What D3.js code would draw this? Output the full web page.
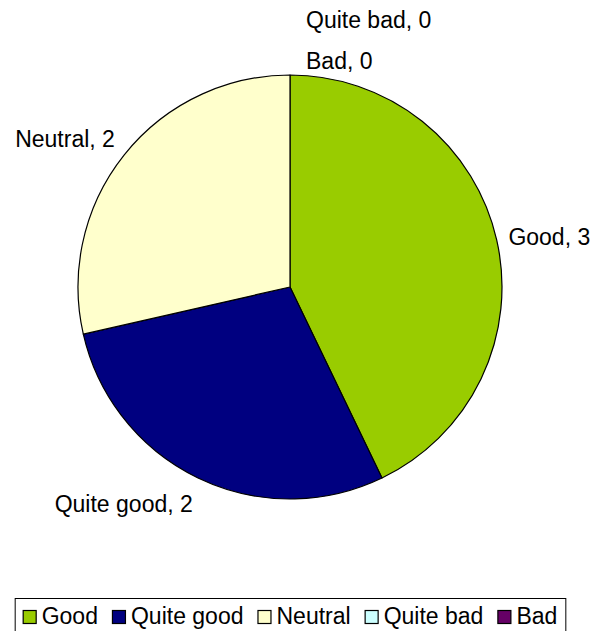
<!DOCTYPE html>
<html>
<head>
<meta charset="utf-8">
<script src="https://cdn.jsdelivr.net/npm/d3@7"></script>
<style>
  html, body { margin: 0; padding: 0; background: #fff; }
  svg { display: block; }
  text { font-family: "Liberation Sans", Arial, sans-serif; fill: #000; }
</style>
</head>
<body>
<svg id="chart" width="593" height="631"></svg>
<script>
// Survey answers and their counts
const categories = ["Good", "Quite good", "Neutral", "Quite bad", "Bad"];
const counts = [3, 2, 2, 0, 0];
const colors = ["#99cc00", "#000080", "#ffffcc", "#ccffff", "#660066"];

const width = 593, height = 631;
const cx = 290, cy = 287, radius = 212;
const fontSize = 23;

const svg = d3.select("#chart");
const data = categories.map((c, i) => ({ name: c, value: counts[i], color: colors[i] }));

const pie = d3.pie().value(d => d.value).sort(null);
const arcs = pie(data);
const arc = d3.arc().innerRadius(0).outerRadius(radius);

const g = svg.append("g").attr("transform", `translate(${cx},${cy})`);

g.selectAll("path.slice")
  .data(arcs.filter(a => a.data.value > 0))
  .join("path")
  .attr("class", "slice")
  .attr("d", arc)
  .attr("fill", d => d.data.color)
  .attr("stroke", "#000")
  .attr("stroke-width", 1.2)
  .attr("stroke-linejoin", "round");

// Data labels: placed just outside the rim, aligned by the direction of the slice
const labelGap = 12;
const placed = [];
const labelsG = svg.append("g");
// draw in reverse so later (zero-size) slices stack above earlier ones
arcs.slice().reverse().forEach(a => {
  const mid = (a.startAngle + a.endAngle) / 2;
  const dx = Math.sin(mid), dy = -Math.cos(mid);
  const px = cx + (radius + labelGap) * dx;
  const py = cy + (radius + labelGap) * dy;
  const t = labelsG.append("text")
    .attr("font-size", fontSize)
    .text(`${a.data.name}, ${a.data.value}`);
  const w = t.node().getComputedTextLength();
  let x, yMid;
  if (Math.abs(dx) < 0.1) {
    x = px + 16; yMid = py - 2;
  } else {
    x = dx > 0 ? px : px - w;
    if (Math.abs(dy) < 0.4) yMid = py;
    else if (dy < 0) yMid = py - fontSize * 0.35;
    else yMid = py + fontSize * 0.65;
  }
  // push overlapping labels upward
  let box = { x0: x, x1: x + w, y0: yMid - fontSize / 2, y1: yMid + fontSize / 2 };
  let moved = true;
  while (moved) {
    moved = false;
    for (const b of placed) {
      if (box.x0 < b.x1 && box.x1 > b.x0 && box.y0 < b.y1 + 10 && box.y1 > b.y0 - 10) {
        yMid -= 41;
        box = { x0: x, x1: x + w, y0: yMid - fontSize / 2, y1: yMid + fontSize / 2 };
        moved = true;
      }
    }
  }
  placed.push(box);
  t.attr("x", x).attr("y", yMid).attr("dy", "0.35em");
});

// Legend
const legend = svg.append("g");
const sq = 14, sqGap = 5, itemGap = 14;
let lx = 0;
data.forEach(d => {
  const it = legend.append("g").attr("transform", `translate(${lx},0)`);
  it.append("rect").attr("x", 0.5).attr("y", -sq + 0.5).attr("width", sq - 1).attr("height", sq - 1)
    .attr("fill", d.color).attr("stroke", "#000").attr("stroke-width", 1.2);
  const tt = it.append("text").attr("x", sq + sqGap).attr("y", 0)
    .attr("font-size", fontSize).text(d.name);
  lx += sq + sqGap + tt.node().getComputedTextLength() + itemGap;
});
const legendW = lx - itemGap;
const pad = 8;
const boxX0 = cx - legendW / 2 - pad, boxY0 = 598;
legend.attr("transform", `translate(${cx - legendW / 2},${624})`);
svg.insert("rect", ":first-child")
  .attr("x", boxX0 + 0.5).attr("y", boxY0 + 0.5)
  .attr("width", legendW + 2 * pad).attr("height", 40)
  .attr("fill", "#fff").attr("stroke", "#000").attr("stroke-width", 1);
</script>
</body>
</html>
